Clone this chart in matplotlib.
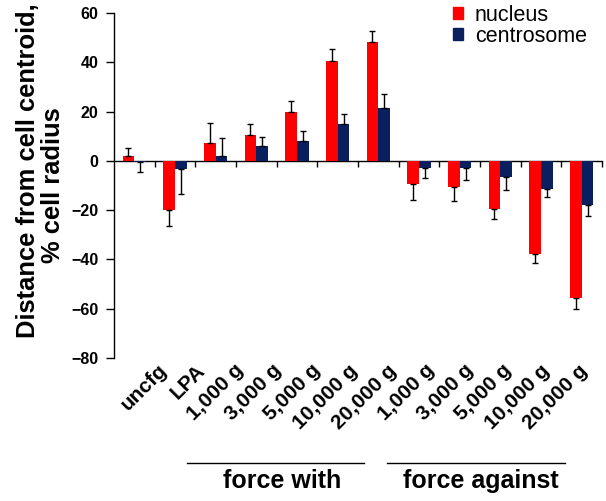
import numpy as np
import matplotlib
matplotlib.use("Agg")
import matplotlib.pyplot as plt
import matplotlib.transforms as mtransforms
from matplotlib.patches import Patch
from matplotlib.lines import Line2D

plt.rcParams['font.family'] = ['Liberation Sans', 'DejaVu Sans']

# --- data ---
categories = ["uncfg", "LPA", "1,000 g", "3,000 g", "5,000 g", "10,000 g", "20,000 g",
              "1,000 g", "3,000 g", "5,000 g", "10,000 g", "20,000 g"]
nucleus = [2.0, -19.9, 7.4, 10.5, 20.0, 40.7, 48.4, -9.5, -10.6, -19.7, -37.6, -55.8]
nucleus_err = [3.1, 6.4, 8.0, 4.3, 4.1, 4.7, 4.4, 6.3, 5.5, 3.8, 3.9, 4.3]
centrosome = [-0.4, -3.4, 1.8, 5.9, 8.1, 14.8, 21.3, -3.1, -2.7, -6.7, -11.4, -18.1]
centrosome_err = [4.2, 9.9, 7.4, 3.9, 4.0, 4.3, 5.8, 3.7, 5.0, 5.1, 3.4, 4.2]
groups = ["force with", "force against"]

red = "#FF0000"
navy = "#0A1F5E"

# jednostranne chybove usecky (iba smerom od nuly)
def one_sided(vals, errs):
    vals = np.array(vals)
    errs = np.array(errs)
    lower = np.where(vals < 0, errs, 0)
    upper = np.where(vals >= 0, errs, 0)
    return [lower, upper]

W, H = 606, 501
fig = plt.figure(figsize=(W/100, H/100), dpi=100)
ax = fig.add_axes([114/W, 1 - 358/H, 488/W, 345/H])

x = np.arange(len(categories))
w = 0.29
ax.bar(x - w/2, nucleus, w, color=red, yerr=one_sided(nucleus, nucleus_err),
       error_kw=dict(ecolor="black", elinewidth=1, capsize=2.5, capthick=1))
ax.bar(x + w/2, centrosome, w, color=navy, yerr=one_sided(centrosome, centrosome_err),
       error_kw=dict(ecolor="black", elinewidth=1, capsize=2.5, capthick=1))

ax.set_xlim(-0.5, len(categories) - 0.5)
ax.set_ylim(-80, 60)
ax.set_yticks(np.arange(-80, 61, 20))
ax.tick_params(axis="y", direction="out", length=6, width=1, labelsize=11.5, pad=5)
for t in ax.get_yticklabels():
    t.set_fontweight("bold")

for s in ["top", "right", "bottom"]:
    ax.spines[s].set_visible(False)
ax.spines["left"].set_linewidth(1)

# popisky kategorii dole, otocene (excel ich trochu stlaci k sebe)
ax.set_xticks(x)
ax.set_xticklabels(categories, rotation=45, ha="right", rotation_mode="anchor",
                   fontsize=15, fontweight="bold")
ax.tick_params(axis="x", length=0, pad=2)
for i, t in enumerate(ax.get_xticklabels()):
    dx = (18 - (i - 2) * 2.4) / 100
    t.set_transform(t.get_transform() + mtransforms.ScaledTranslation(dx, 0, fig.dpi_scale_trans))

# os x na nule s ryskami medzi kategoriami
sec = ax.secondary_xaxis(0, transform=ax.transData)
sec.set_xticks(np.arange(0.5, len(categories), 1.0))
sec.set_xticklabels([])
sec.tick_params(direction="out", length=4, width=1)
sec.spines["bottom"].set_linewidth(1)

# popis osi y - dva riadky
fig.text(35/W, 1 - 171/H, "Distance from cell centroid,", rotation=90,
         rotation_mode="anchor", ha="center", va="baseline", fontsize=18.4, fontweight="bold")
fig.text(60/W, 1 - 185/H, "% cell radius", rotation=90,
         rotation_mode="anchor", ha="center", va="baseline", fontsize=18.4, fontweight="bold")

# legenda
handles = [Patch(color=red), Patch(color=navy)]
fig.legend(handles, ["nucleus", "centrosome"], loc="upper left",
           bbox_to_anchor=(453/W, 1 - 5/H), frameon=False, fontsize=15.5,
           handlelength=0.47, handleheight=0.47, handletextpad=0.55,
           labelspacing=0.0, borderpad=0, borderaxespad=0)

# skupiny
trans = mtransforms.blended_transform_factory(ax.transData, fig.transFigure)
for (x0, x1, xc), name in zip([(1.30, 5.65, 3.63), (6.21, 10.59, 8.52)], groups):
    fig.add_artist(Line2D([x0, x1], [1 - 463/H, 1 - 463/H], color="black",
                          lw=1, transform=trans))
    fig.text(xc, 1 - 481/H, name, transform=trans, ha="center", va="center",
             fontsize=18, fontweight="bold")

fig.savefig("out.png", dpi=100)
